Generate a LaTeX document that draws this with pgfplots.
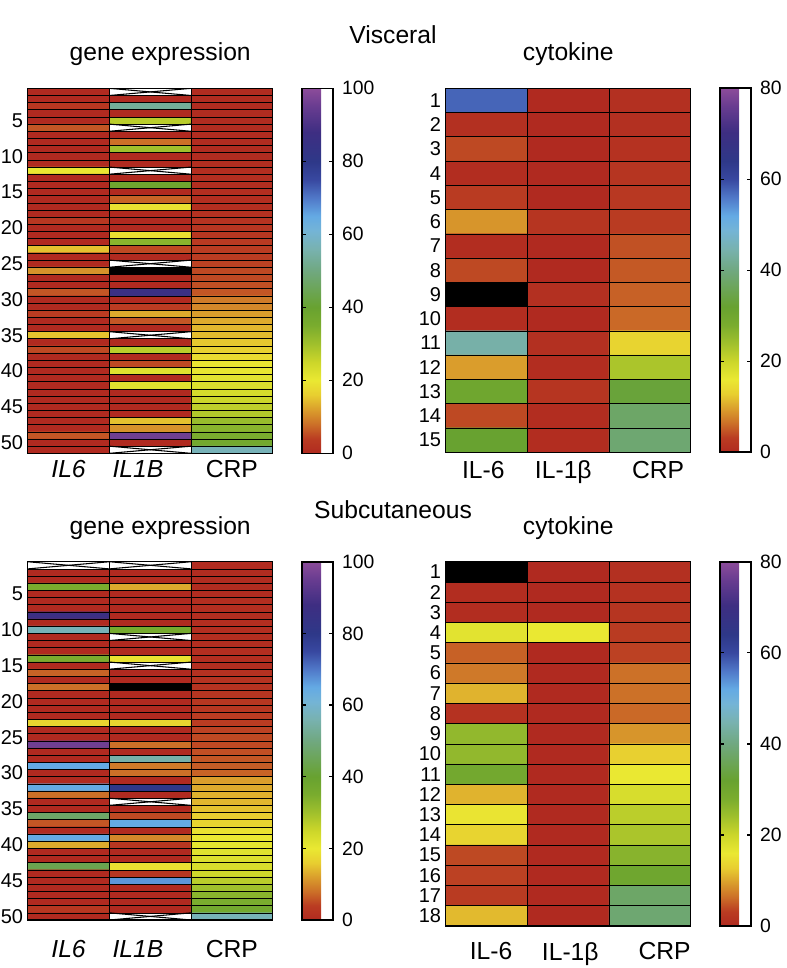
\documentclass[border=0pt]{standalone}
\usepackage{fontspec}
\setmainfont{Liberation Sans}
\usepackage{pgfplots}
\usepackage{pgfplotstable}
\pgfplotsset{compat=1.18}

\newcommand\Xcell[4]{%
\addplot[fill=white, draw=none, forget plot] coordinates {(#1,#3) (#2,#3) (#2,#4) (#1,#4)};
\addplot[black, line width=0.8pt, forget plot] coordinates {(#1,#3) (#2,#4)};
\addplot[black, line width=0.8pt, forget plot] coordinates {(#1,#4) (#2,#3)};
}
\newcommand\Bcell[4]{%
\addplot[fill=black, draw=none, forget plot] coordinates {(#1,#3) (#2,#3) (#2,#4) (#1,#4)};
}

\pgfplotsset{
  heat/.style={
    scale only axis, width=183.75pt, anchor=south west,
    xmin=-0.5, xmax=2.5, ymin=0.5, y dir=reverse,
    enlargelimits=false, axis on top,
    colormap={rb}{rgb255(0pt)=(176,42,32) rgb255(4pt)=(186,60,34) rgb255(8pt)=(204,112,40)
      rgb255(12pt)=(218,158,44) rgb255(16pt)=(232,206,48) rgb255(20pt)=(234,232,50)
      rgb255(25pt)=(204,214,42) rgb255(30pt)=(160,192,44) rgb255(35pt)=(122,172,46)
      rgb255(40pt)=(104,162,48) rgb255(50pt)=(112,168,128) rgb255(56pt)=(120,178,176)
      rgb255(61pt)=(116,180,214) rgb255(65pt)=(100,170,228) rgb255(70pt)=(80,120,200)
      rgb255(75pt)=(56,72,160) rgb255(80pt)=(46,56,136) rgb255(88pt)=(62,46,130)
      rgb255(95pt)=(104,60,144) rgb255(100pt)=(140,76,154)},
    point meta min=0,
    colorbar,
    major tick length=0pt, minor tick length=0pt,
    minor xtick={0.5,1.5},
    xminorgrids, yminorgrids,
    minor grid style={black, line width=0.5pt},
    axis line style={black, line width=1pt},
    /pgf/number format/assume math mode=true,
    yticklabel style={font=\fontsize{15}{18}\selectfont},
    xticklabel style={font=\fontsize{18.5}{22}\selectfont},
    title style={font=\fontsize{18.5}{22}\selectfont, at={(0.5,1)}, anchor=center, yshift=19.5pt},
    colorbar style={at={(parent axis.north east)}, anchor=north west, xshift=13.5pt,
      width=23pt, scale only axis, tick align=inside, major tick length=3pt,
      ytick pos=both, yticklabel pos=right,
      tick style={black, line width=1pt},
      axis line style={black, line width=1.2pt},
      /pgf/number format/assume math mode=true,
      yticklabel style={font=\fontsize{14.5}{17}\selectfont, xshift=3.5pt}},
  }
}

\pgfplotstableread[row sep=\\]{
x y v\\
0 1 0\\ 1 1 0\\ 2 1 0.5\\
0 2 0\\ 1 2 0\\ 2 2 0.5\\
0 3 3\\ 1 3 53\\ 2 3 0.5\\
0 4 0\\ 1 4 0\\ 2 4 0.5\\
0 5 0\\ 1 5 27\\ 2 5 0.5\\
0 6 6\\ 1 6 0\\ 2 6 0.5\\
0 7 0\\ 1 7 0\\ 2 7 0.5\\
0 8 0\\ 1 8 8\\ 2 8 0.5\\
0 9 0\\ 1 9 30\\ 2 9 0.5\\
0 10 0\\ 1 10 0\\ 2 10 0.5\\
0 11 0\\ 1 11 0\\ 2 11 1\\
0 12 20\\ 1 12 0\\ 2 12 1\\
0 13 0\\ 1 13 0\\ 2 13 1\\
0 14 0\\ 1 14 38\\ 2 14 1\\
0 15 0\\ 1 15 0\\ 2 15 1\\
0 16 0\\ 1 16 7\\ 2 16 1\\
0 17 0\\ 1 17 19\\ 2 17 1\\
0 18 0\\ 1 18 0\\ 2 18 1.5\\
0 19 3\\ 1 19 0\\ 2 19 2\\
0 20 0\\ 1 20 0\\ 2 20 2.5\\
0 21 0\\ 1 21 19\\ 2 21 3\\
0 22 0\\ 1 22 33\\ 2 22 3.5\\
0 23 15\\ 1 23 5\\ 2 23 4\\
0 24 0\\ 1 24 0\\ 2 24 4\\
0 25 0\\ 1 25 0\\ 2 25 4.5\\
0 26 11\\ 1 26 0\\ 2 26 5\\
0 27 0\\ 1 27 0\\ 2 27 5\\
0 28 0\\ 1 28 0\\ 2 28 5.5\\
0 29 6\\ 1 29 86\\ 2 29 6\\
0 30 0\\ 1 30 0\\ 2 30 9\\
0 31 0\\ 1 31 4\\ 2 31 10\\
0 32 4\\ 1 32 13\\ 2 32 12\\
0 33 0\\ 1 33 6\\ 2 33 13\\
0 34 0\\ 1 34 0\\ 2 34 14\\
0 35 15\\ 1 35 0\\ 2 35 14.5\\
0 36 0\\ 1 36 0\\ 2 36 15.5\\
0 37 5\\ 1 37 27\\ 2 37 16.5\\
0 38 0\\ 1 38 0\\ 2 38 18\\
0 39 0\\ 1 39 5\\ 2 39 19.5\\
0 40 0\\ 1 40 22\\ 2 40 20.5\\
0 41 0\\ 1 41 0\\ 2 41 21.5\\
0 42 0\\ 1 42 22\\ 2 42 22.5\\
0 43 0\\ 1 43 0\\ 2 43 23.5\\
0 44 0\\ 1 44 0\\ 2 44 25\\
0 45 0\\ 1 45 0\\ 2 45 26.5\\
0 46 0\\ 1 46 0\\ 2 46 28\\
0 47 0\\ 1 47 15\\ 2 47 31\\
0 48 0\\ 1 48 11\\ 2 48 33\\
0 49 6\\ 1 49 96\\ 2 49 35\\
0 50 0\\ 1 50 0\\ 2 50 37\\
0 51 0\\ 1 51 0\\ 2 51 57\\
}\tableA

\pgfplotstableread[row sep=\\]{
x y v\\
0 1 57.6\\ 1 1 0\\ 2 1 1\\
0 2 1\\ 1 2 0\\ 2 2 1\\
0 3 4\\ 1 3 0\\ 2 3 1.5\\
0 4 0.5\\ 1 4 0\\ 2 4 2\\
0 5 3\\ 1 5 0\\ 2 5 2.5\\
0 6 9\\ 1 6 2\\ 2 6 3\\
0 7 0.5\\ 1 7 0\\ 2 7 4.5\\
0 8 4\\ 1 8 0\\ 2 8 5\\
0 9 0\\ 1 9 1\\ 2 9 5.5\\
0 10 0.5\\ 1 10 0\\ 2 10 6\\
0 11 44\\ 1 11 1\\ 2 11 13.5\\
0 12 9.5\\ 1 12 0.5\\ 2 12 23\\
0 13 30.5\\ 1 13 2\\ 2 13 33\\
0 14 4\\ 1 14 0.5\\ 2 14 37.5\\
0 15 32\\ 1 15 0.5\\ 2 15 38.5\\
}\tableB

\pgfplotstableread[row sep=\\]{
x y v\\
0 1 0\\ 1 1 0\\ 2 1 0.5\\
0 2 0\\ 1 2 0\\ 2 2 0.5\\
0 3 0\\ 1 3 1\\ 2 3 0.5\\
0 4 35\\ 1 4 13\\ 2 4 0.5\\
0 5 0\\ 1 5 0\\ 2 5 0.5\\
0 6 0\\ 1 6 0\\ 2 6 1\\
0 7 0\\ 1 7 0\\ 2 7 1\\
0 8 87\\ 1 8 0\\ 2 8 1\\
0 9 0\\ 1 9 0\\ 2 9 1\\
0 10 57\\ 1 10 36\\ 2 10 1\\
0 11 0\\ 1 11 0\\ 2 11 1\\
0 12 0\\ 1 12 0\\ 2 12 1\\
0 13 0\\ 1 13 0\\ 2 13 1\\
0 14 35\\ 1 14 19\\ 2 14 1\\
0 15 0\\ 1 15 0\\ 2 15 1\\
0 16 7\\ 1 16 0\\ 2 16 1.5\\
0 17 0\\ 1 17 0\\ 2 17 2\\
0 18 8\\ 1 18 0\\ 2 18 2\\
0 19 0\\ 1 19 0\\ 2 19 2.5\\
0 20 0\\ 1 20 0\\ 2 20 3\\
0 21 0\\ 1 21 0\\ 2 21 3\\
0 22 0\\ 1 22 0\\ 2 22 4\\
0 23 17\\ 1 23 17\\ 2 23 4\\
0 24 0\\ 1 24 0\\ 2 24 4.5\\
0 25 0\\ 1 25 0\\ 2 25 5\\
0 26 96\\ 1 26 8\\ 2 26 5\\
0 27 0\\ 1 27 0\\ 2 27 5.5\\
0 28 0\\ 1 28 55\\ 2 28 6\\
0 29 65\\ 1 29 9\\ 2 29 6.5\\
0 30 0\\ 1 30 8\\ 2 30 7\\
0 31 0\\ 1 31 0\\ 2 31 12\\
0 32 65\\ 1 32 80\\ 2 32 13\\
0 33 8\\ 1 33 0\\ 2 33 13.5\\
0 34 0\\ 1 34 0\\ 2 34 14\\
0 35 0\\ 1 35 0\\ 2 35 15\\
0 36 47\\ 1 36 5\\ 2 36 16\\
0 37 6\\ 1 37 65\\ 2 37 17\\
0 38 0\\ 1 38 0\\ 2 38 19\\
0 39 65\\ 1 39 10\\ 2 39 20\\
0 40 13\\ 1 40 3\\ 2 40 21\\
0 41 0\\ 1 41 0\\ 2 41 22\\
0 42 0\\ 1 42 0\\ 2 42 22.5\\
0 43 44\\ 1 43 19\\ 2 43 23\\
0 44 0\\ 1 44 3\\ 2 44 24.5\\
0 45 0\\ 1 45 67\\ 2 45 27\\
0 46 0\\ 1 46 0\\ 2 46 30\\
0 47 0\\ 1 47 0\\ 2 47 33\\
0 48 0\\ 1 48 0\\ 2 48 35\\
0 49 3\\ 1 49 0\\ 2 49 37\\
0 50 0\\ 1 50 0\\ 2 50 57\\
}\tableC

\pgfplotstableread[row sep=\\]{
x y v\\
0 1 0\\ 1 1 0\\ 2 1 1\\
0 2 0.5\\ 1 2 0\\ 2 2 1.5\\
0 3 0.5\\ 1 3 0\\ 2 3 2\\
0 4 17\\ 1 4 16\\ 2 4 3\\
0 5 5.5\\ 1 5 0\\ 2 5 3.5\\
0 6 7\\ 1 6 0\\ 2 6 6.5\\
0 7 11\\ 1 7 0\\ 2 7 6.5\\
0 8 1.5\\ 1 8 0\\ 2 8 6\\
0 9 25.5\\ 1 9 0\\ 2 9 9\\
0 10 25.5\\ 1 10 0\\ 2 10 13\\
0 11 29.5\\ 1 11 0\\ 2 11 16\\
0 12 11\\ 1 12 0\\ 2 12 18.5\\
0 13 15.5\\ 1 13 0\\ 2 13 21.5\\
0 14 13.5\\ 1 14 0\\ 2 14 23\\
0 15 4\\ 1 15 0\\ 2 15 26.5\\
0 16 3.5\\ 1 16 0\\ 2 16 30.5\\
0 17 3\\ 1 17 0\\ 2 17 37.5\\
0 18 11.5\\ 1 18 0\\ 2 18 38.5\\
}\tableD

\begin{document}
\begin{tikzpicture}
\useasboundingbox (0,0) rectangle (589.5pt,726pt);
\node[font=\fontsize{18.5}{22}\selectfont] at (294.75pt,699.75pt) {Visceral};
\node[font=\fontsize{18.5}{22}\selectfont] at (294.75pt,343.5pt) {Subcutaneous};

% top-left
\begin{axis}[heat, at={(20.8pt,386pt)}, height=273.75pt, ymax=51.5,
  ytick={5,10,...,50}, minor ytick={1.5,2.5,...,50.5},
  point meta max=100, xtick={0,0.85,2},
  xticklabels={\textit{IL6},\textit{IL1B},CRP},
  xticklabel style={yshift=-2pt},
  title={gene expression}, title style={xshift=7.5pt},
  colorbar style={ytick={0,20,...,100}}]
\addplot[matrix plot*, mesh/cols=3, point meta=explicit] table[meta=v] {\tableA};
\Xcell{0.5}{1.5}{0.5}{1.5}
\Xcell{0.5}{1.5}{5.5}{6.5}
\Xcell{0.5}{1.5}{11.5}{12.5}
\Xcell{0.5}{1.5}{24.5}{25.5}
\Xcell{0.5}{1.5}{34.5}{35.5}
\Xcell{0.5}{1.5}{50.5}{51.5}
\Bcell{0.5}{1.5}{25.5}{26.5}
\end{axis}

% top-right
\begin{axis}[heat, at={(334.3pt,386.8pt)}, height=273pt, ymax=15.5,
  ytick={1,2,...,15}, minor ytick={1.5,2.5,...,14.5},
  point meta max=80, xtick={-0.04,0.94,2.1},
  xticklabels={IL-6,IL-1β,CRP},
  xticklabel style={yshift=-3pt},
  title={cytokine},
  colorbar style={ytick={0,20,...,80}}]
\addplot[matrix plot*, mesh/cols=3, point meta=explicit] table[meta=v] {\tableB};
\Bcell{-0.5}{0.5}{8.5}{9.5}
\end{axis}

% bottom-left
\begin{axis}[heat, at={(20.8pt,36pt)}, height=268.7pt, ymax=50.5,
  ytick={5,10,...,50}, minor ytick={1.5,2.5,...,49.5},
  point meta max=100, xtick={0,0.85,2},
  xticklabels={\textit{IL6},\textit{IL1B},CRP},
  xticklabel style={yshift=-12pt},
  title={gene expression}, title style={xshift=7.5pt},
  colorbar style={ytick={0,20,...,100}}]
\addplot[matrix plot*, mesh/cols=3, point meta=explicit] table[meta=v] {\tableC};
\Xcell{-0.5}{0.5}{0.5}{1.5}
\Xcell{0.5}{1.5}{0.5}{1.5}
\Xcell{0.5}{1.5}{10.5}{11.5}
\Xcell{0.5}{1.5}{14.5}{15.5}
\Xcell{0.5}{1.5}{33.5}{34.5}
\Xcell{0.5}{1.5}{49.5}{50.5}
\Bcell{0.5}{1.5}{17.5}{18.5}
\end{axis}

% bottom-right
\begin{axis}[heat, at={(334.3pt,31.5pt)}, height=273.2pt, ymax=18.5,
  ytick={1,2,...,18}, minor ytick={1.5,2.5,...,17.5},
  point meta max=80, xtick={0.055,1.025,2.18},
  xticklabels={IL-6,IL-1β,CRP},
  xticklabel style={yshift=-9pt},
  title={cytokine},
  colorbar style={ytick={0,20,...,80}}]
\addplot[matrix plot*, mesh/cols=3, point meta=explicit] table[meta=v] {\tableD};
\Bcell{-0.5}{0.5}{0.5}{1.5}
\end{axis}
\end{tikzpicture}
\end{document}
